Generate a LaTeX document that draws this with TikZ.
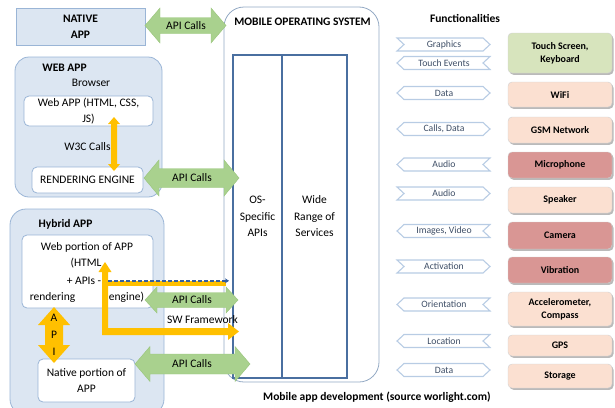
\documentclass[tikz,border=0pt]{standalone}
\usepackage{fontspec}
\setmainfont{Carlito}
\usetikzlibrary{shadows,arrows.meta}
\definecolor{appfill}{HTML}{DCE6F2}
\definecolor{appdraw}{HTML}{9AB5D6}
\definecolor{osdraw}{HTML}{93A9C4}
\definecolor{innerdraw}{HTML}{4A6FA0}
\definecolor{apigreen}{HTML}{A9D18E}
\definecolor{apigreenD}{HTML}{98C47A}
\definecolor{orng}{HTML}{FFC000}
\definecolor{dashblue}{HTML}{3560A0}
\definecolor{chevdraw}{HTML}{B8CCE4}
\definecolor{chevtext}{HTML}{3E4E66}
\definecolor{boxgreen}{HTML}{D7E4BD}
\definecolor{boxpeach}{HTML}{FBE0D1}
\definecolor{boxrose}{HTML}{D99694}
% horizontal block double arrow: [style]{x1}{x2}{y}{body half}{head half}{head length}
\newcommand{\blkH}[7][]{%
  \path[#1] (#2,#4) -- ({#2+#7},{#4-#6}) -- ({#2+#7},{#4-#5}) -- ({#3-#7},{#4-#5}) -- ({#3-#7},{#4-#6}) -- (#3,#4) -- ({#3-#7},{#4+#6}) -- ({#3-#7},{#4+#5}) -- ({#2+#7},{#4+#5}) -- ({#2+#7},{#4+#6}) -- cycle;}
% vertical block double arrow: [style]{x}{y1}{y2}{body half}{head half}{head length}
\newcommand{\blkV}[7][]{%
  \path[#1] (#2,#3) -- ({#2+#6},{#3+#7}) -- ({#2+#5},{#3+#7}) -- ({#2+#5},{#4-#7}) -- ({#2+#6},{#4-#7}) -- (#2,#4) -- ({#2-#6},{#4-#7}) -- ({#2-#5},{#4-#7}) -- ({#2-#5},{#3+#7}) -- ({#2-#6},{#3+#7}) -- cycle;}
% chevron: {y}{left: 1 point, -1 notch}{right: 1 point, -1 notch}{text}{name}
\newcommand{\chevshape}[5]{%
  \draw[chev] ({397+3.5*(1+(#2))},{#1-6.5}) -- ({490-3.5*(1+(#3))},{#1-6.5}) -- ({490-3.5*(1-(#3))},#1) -- ({490-3.5*(1+(#3))},{#1+6.5}) -- ({397+3.5*(1+(#2))},{#1+6.5}) -- ({397+3.5*(1-(#2))},#1) -- cycle;
  \node[chevtxt] (#5) at (444,#1) {#4};}
\begin{document}
\begin{tikzpicture}[x=1pt,y=-1pt,
  txt/.style={inner sep=0pt, align=center, font=\fontsize{11.5}{15.5}\selectfont, text=black},
  btxt/.style={inner sep=0pt, align=center, font=\fontsize{11.5}{16}\selectfont\bfseries, text=black},
  appbox/.style={draw=appdraw, fill=appfill, line width=0.8pt, inner sep=0pt},
  whitebox/.style={draw=appdraw, fill=white, rounded corners=5pt, line width=0.8pt, inner sep=0pt},
  innerrect/.style={draw=innerdraw, line width=1.3pt, fill=white, inner sep=0pt, align=center, font=\fontsize{11.5}{16.5}\selectfont},
  apiarrow/.style={fill=apigreen, draw=apigreenD, line width=0.4pt},
  orarrow/.style={fill=orng},
  chev/.style={draw=chevdraw, fill=white, line width=1.1pt, line join=miter},
  chevtxt/.style={inner sep=0pt, text=chevtext, font=\fontsize{9.7}{11}\selectfont},
  rbox/.style={rounded corners=4pt, minimum width=104pt, draw=black!18, inner sep=0pt, align=center,
     font=\fontsize{10}{13}\selectfont\bfseries,
     drop shadow={shadow xshift=1.5pt, shadow yshift=-1.8pt, opacity=0.45, fill=black!60}}
]
\useasboundingbox (0,0) rectangle (615,407);
\begin{scope}
\clip (0,0) rectangle (615,407);

% ---------- left: apps ----------
\node[appbox, minimum width=129pt, minimum height=37pt, btxt] (native) at (80.5,26.5) {NATIVE\\APP};

\node[appbox, rounded corners=14pt, minimum width=147pt, minimum height=140pt] (webapp) at (88.5,127) {};
\node[btxt] (webapplbl) at (64.5,68) {WEB APP};
\node[txt] (browser) at (91,83) {Browser};
\node[whitebox, minimum width=129pt, minimum height=30pt, txt] (webin) at (88.5,111) {Web APP (HTML, CSS,\\JS)};
\node[txt] (w3c) at (87.5,147) {W3C Calls};
\node[whitebox, minimum width=111pt, minimum height=26pt, txt] (render) at (87.5,180) {RENDERING ENGINE};

\node[appbox, rounded corners=16pt, minimum width=154pt, minimum height=206pt] (hybrid) at (87,312) {};
\node[btxt] (hybridlbl) at (65.5,224) {Hybrid APP};
\node[whitebox, minimum width=131pt, minimum height=73pt] (webportion) at (87.5,271.5) {};
\node[txt] (wp1) at (87,247) {Web portion of APP};
\node[txt] (wp2) at (86,263.5) {(HTML};
\node[txt] (wp3) at (84,281) {+ APIs -};
\node[txt] (wp4) at (52.5,297) {rendering};
\node[txt] (wp5) at (126.5,297) {engine)};
\node[whitebox, minimum width=97pt, minimum height=43pt, txt] (nativeportion) at (86.5,380.5) {Native portion of\\APP};

% ---------- mobile OS ----------
\node[draw=osdraw, fill=white, line width=0.8pt, rounded corners=20pt, minimum width=155pt, minimum height=375pt, inner sep=0pt] (os) at (301.5,194.5) {};
\node[btxt] (ostitle) at (302.5,22) {MOBILE OPERATING SYSTEM};
\node[innerrect, minimum width=49pt, minimum height=323pt] (osapi) at (257.5,216.5) {OS-\\Specific\\APIs};
\node[innerrect, minimum width=65pt, minimum height=323pt] (services) at (314.5,216.5) {Wide\\Range of\\Services};

% ---------- API calls arrows ----------
\blkH[apiarrow]{145}{226}{25.5}{8}{17.5}{15}
\node[txt] (api1) at (186,25.5) {API Calls};
\blkH[apiarrow]{144}{239}{178}{9.5}{18}{15}
\node[txt] (api2) at (192,178) {API Calls};
\blkH[apiarrow]{145}{238}{300}{7.5}{13}{12}
\node[txt] (api3) at (192,300) {API Calls};
\blkH[apiarrow]{135}{250}{364}{10}{17.5}{15}
\node[txt] (api4) at (192,364) {API Calls};
\node[txt] (swf) at (202.5,320) {SW Framework};

% ---------- orange arrows ----------
\blkV[orarrow]{114}{117}{171}{3}{6}{7}
\blkV[orarrow]{54}{307}{363}{9}{16}{18}
\node[txt] (apiA) at (54,318) {A};
\node[txt] (apiP) at (54,335) {P};
\node[txt] (apiI) at (54,352) {I};
\fill[orng] (102,335) -- (102,272) -- (98.5,272) -- (105,262) -- (111.5,272) -- (108,272) -- (108,328) -- (228,328) -- (228,323) -- (239,331.5) -- (228,340) -- (228,335) -- cycle;
\coordinate (dashstart) at (108,282);
\coordinate (dashend) at (229,282);
\draw[orng, line width=5pt] ([yshift=-1.2pt]dashstart) -- ([xshift=-3pt,yshift=-1.2pt]dashend);
\draw[dashblue, line width=1.8pt, dash pattern=on 4pt off 2pt, -{Stealth[length=4pt,width=5pt]}] ([yshift=1.2pt]dashstart) -- ([yshift=1.2pt]dashend);

% ---------- functionalities ----------
\node[btxt] (func) at (465,18) {Functionalities};
\chevshape{44.5}{-1}{1}{Graphics}{c1}
\chevshape{63}{1}{-1}{Touch Events}{c2}
\chevshape{93}{1}{1}{Data}{c3}
\chevshape{129}{1}{1}{Calls, Data}{c4}
\chevshape{164.5}{1}{-1}{Audio}{c5}
\chevshape{193.5}{-1}{1}{Audio}{c6}
\chevshape{231}{1}{-1}{Images, Video}{c7}
\chevshape{266.5}{-1}{1}{Activation}{c8}
\chevshape{304.5}{1}{-1}{Orientation}{c9}
\chevshape{341}{1}{-1}{Location}{c10}
\chevshape{370}{1}{1}{Data}{c11}

\node[rbox, fill=boxgreen, minimum height=40pt] (touch) at (560,53) {Touch Screen,\\Keyboard};
\node[rbox, fill=boxpeach, minimum height=25pt] (wifi) at (560,94.5) {WiFi};
\node[rbox, fill=boxpeach, minimum height=26pt] (gsm) at (560,130) {GSM Network};
\node[rbox, fill=boxrose, minimum height=26pt] (mic) at (560,165) {Microphone};
\node[rbox, fill=boxpeach, minimum height=26pt] (speaker) at (560,200) {Speaker};
\node[rbox, fill=boxrose, minimum height=27pt] (camera) at (560,235.5) {Camera};
\node[rbox, fill=boxrose, minimum height=26pt] (vibration) at (560,270) {Vibration};
\node[rbox, fill=boxpeach, minimum height=34pt] (accel) at (560,309) {Accelerometer,\\Compass};
\node[rbox, fill=boxpeach, minimum height=21pt] (gps) at (560,345.5) {GPS};
\node[rbox, fill=boxpeach, minimum height=24pt] (storage) at (560,376) {Storage};

\node[btxt] (caption) at (377,397) {Mobile app development (source worlight.com)};
\end{scope}
\end{tikzpicture}
\end{document}
